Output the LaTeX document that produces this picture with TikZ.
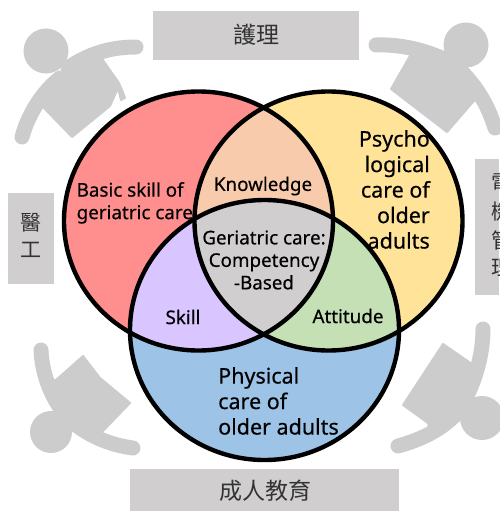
\documentclass[tikz,border=0pt]{standalone}
\usepackage{fontspec}
\setmainfont{Noto Sans}
\newfontfamily\lblfont{Noto Sans}[FakeBold=0.4]
\newfontfamily\cjkfont{Noto Sans CJK TC}
\definecolor{cred}{HTML}{FF8F8F}
\definecolor{cyellow}{HTML}{FFE399}
\definecolor{cblue}{HTML}{9DC3E6}
\definecolor{corange}{HTML}{F8CBAD}
\definecolor{cpurple}{HTML}{D9C5FF}
\definecolor{cgreen}{HTML}{C5E0B4}
\definecolor{cgray}{HTML}{D0CECE}
\definecolor{cfig}{HTML}{CCCCCC}
\definecolor{ctext}{HTML}{333333}
\tikzset{
  ring/.style={draw=black,line width=4.4pt},
  banner/.style={fill=cgray,draw=none,inner sep=0pt,anchor=north west},
  cjk/.style={font=\cjkfont\fontsize{21}{28}\selectfont,text=ctext,inner sep=0pt,anchor=center},
  cjkbig/.style={font=\cjkfont\fontsize{23}{28}\selectfont,text=ctext,inner sep=0pt,anchor=center},
  small/.style={font=\lblfont\fontsize{18.8}{22.5}\selectfont,inner sep=0pt,text=black},
  big/.style={font=\lblfont\fontsize{21.5}{25.5}\selectfont,inner sep=0pt,text=black},
  limb/.style={draw=cfig,line width=15pt,line cap=round},
  torso/.style={fill=cfig,draw=cfig,line width=2pt,line join=round},
  headdot/.style={fill=cfig,draw=none},
}
\newcommand{\circR}{(198.5,221) ellipse [x radius=134.5,y radius=129.5]}
\newcommand{\circY}{(328.5,221) ellipse [x radius=134,y radius=129.5]}
\newcommand{\circB}{(264.5,330) ellipse [x radius=134.5,y radius=130]}
\begin{document}
\begin{tikzpicture}[x=1pt,y=-1pt]
\useasboundingbox (0,0) rectangle (499,511);
% banners
\node[banner,minimum width=206pt,minimum height=49pt] (bt) at (153,11) {};
\node[banner,minimum width=46pt,minimum height=91pt] (bl) at (8,193) {};
\node[banner,minimum width=24pt,minimum height=136pt] (br) at (475,159) {};
\node[banner,minimum width=269pt,minimum height=42pt] (bb) at (130,469) {};
\node[cjkbig] (tt) at (256,35) {護理};
\node[cjk] (tl1) at (31,223) {醫};
\node[cjk] (tl2) at (31,250) {工};
\node[cjk] (tr1) at (502,183) {電};
\node[cjk] (tr2) at (502,212) {機};
\node[cjk] (tr3) at (502,240) {管};
\node[cjk] (tr4) at (502,268) {理};
\node[cjkbig] (tb) at (265,491) {成人教育};
% people
% top-left
\fill[headdot] (46,51) circle [radius=22.5];
\draw[limb] (136,47) .. controls (110,47) and (88,54) .. (68,68);
\draw[limb] (22,137) .. controls (28,115) and (42,92) .. (60,78);
\draw[torso] (66,66) -- (100,56) -- (119,83) -- (122,90) -- (125,98) -- (121,100) -- (118,88) -- (110,106) -- (72,137) -- (44,108) -- (48,92) -- cycle;
% top-right
\fill[headdot] (466,45) circle [radius=22.5];
\draw[limb] (376,45) .. controls (400,44) and (425,50) .. (446,60);
\draw[limb] (495,128) .. controls (488,105) and (476,85) .. (458,68);
\draw[torso] (411,54) -- (445,54) -- (468,70) -- (479,95) -- (473,102) -- (447,132) -- (391,89) -- cycle;
% bottom-left
\fill[headdot] (51,432) circle [radius=21];
\draw[limb] (41,350) .. controls (42,375) and (52,400) .. (68,418);
\draw[limb] (133,448) .. controls (110,445) and (88,436) .. (70,420);
\draw[torso] (48,381) -- (56,380) -- (83,356) -- (100,378) -- (130,403) -- (103,431) -- (90,436) -- (62,412) -- cycle;
% bottom-right
\fill[headdot] (482,418) circle [radius=22];
\draw[limb] (483,329) .. controls (483,355) and (475,385) .. (458,412);
\draw[limb] (398,446) .. controls (420,440) and (442,430) .. (458,412);
\draw[torso] (443,344) -- (472,364) -- (480,364) -- (468,405) -- (430,432) -- (428,423) -- (403,405) -- cycle;
% rings
\fill[cred] \circR;
\fill[cyellow] \circY;
\fill[cblue] \circB;
\begin{scope}\clip \circR; \fill[corange] \circY; \end{scope}
\begin{scope}\clip \circR; \fill[cpurple] \circB; \end{scope}
\begin{scope}\clip \circY; \fill[cgreen] \circB; \end{scope}
\begin{scope}\clip \circR; \clip \circY; \fill[cgray] \circB; \end{scope}
\draw[ring] \circR;
\draw[ring] \circY;
\draw[ring] \circB;
% labels
\node[small,align=left,anchor=north west] (lb) at (76.5,182) {Basic skill of\\geriatric care};
\node[small,anchor=center] (lk) at (263,186) {Knowledge};
\node[small,align=center,anchor=center] (lg) at (264,260) {Geriatric care:\\Competency\\-Based};
\node[small,anchor=center] (ls) at (183,317) {Skill};
\node[small,anchor=center] (la) at (348,316) {Attitude};
\node[big,align=right,anchor=north east] (lp) at (430,130) {Psycho\\logical\\care of\\older\\adults};
\node[big,align=left,anchor=north west] (lc) at (218,367) {Physical\\care of\\older adults};
\end{tikzpicture}
\end{document}
